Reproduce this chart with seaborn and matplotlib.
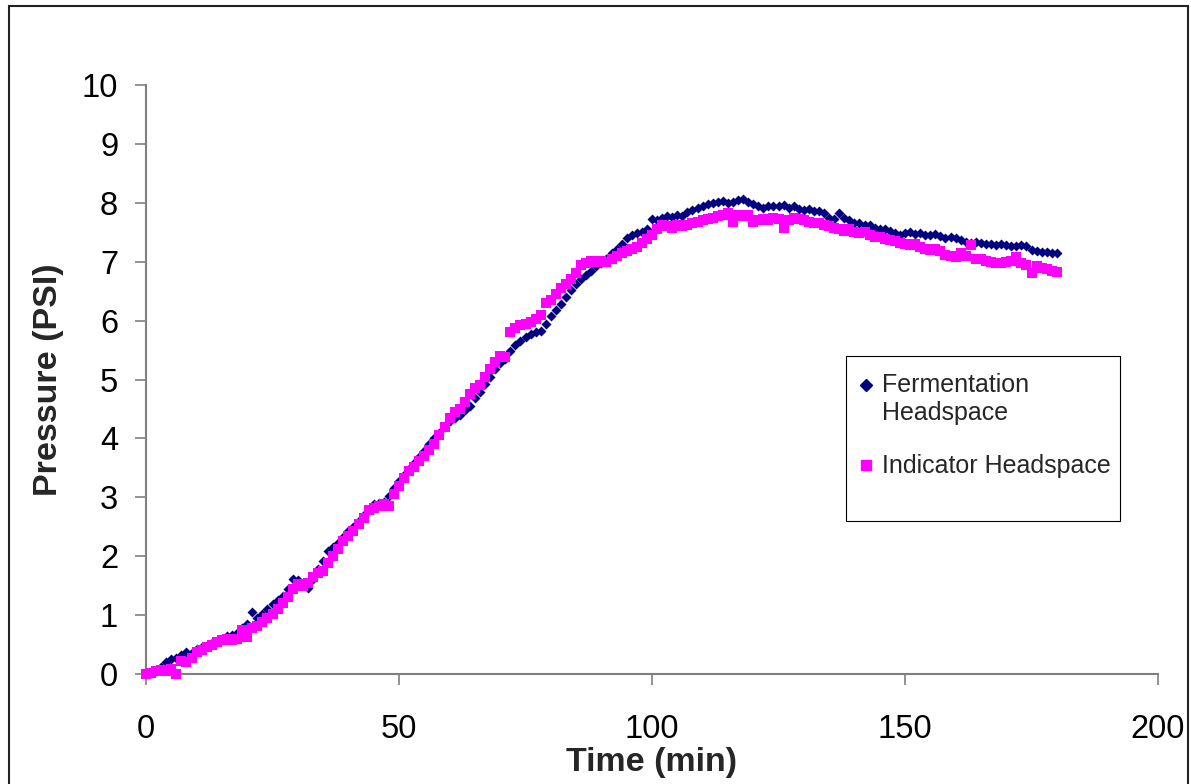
import numpy as np
import pandas as pd
import matplotlib
matplotlib.use("Agg")
import matplotlib.pyplot as plt
from matplotlib.patches import Rectangle
from matplotlib.lines import Line2D
import seaborn as sns

# ---------------- data ----------------
time_min = list(range(0, 181))

fermentation = [
    0.00, 0.02, 0.05, 0.12, 0.20, 0.25, 0.27, 0.33, 0.38, 0.35,
    0.42, 0.45, 0.48, 0.52, 0.55, 0.60, 0.65, 0.66, 0.70, 0.78,
    0.85, 1.06, 0.95, 1.02, 1.10, 1.18, 1.25, 1.32, 1.45, 1.62,
    1.60, 1.55, 1.46, 1.62, 1.78, 1.92, 2.08, 2.15, 2.22, 2.32,
    2.42, 2.50, 2.60, 2.70, 2.80, 2.88, 2.90, 2.92, 3.02, 3.15,
    3.28, 3.38, 3.48, 3.58, 3.68, 3.78, 3.90, 4.00, 4.10, 4.20,
    4.30, 4.35, 4.40, 4.48, 4.55, 4.68, 4.78, 4.92, 5.05, 5.18,
    5.28, 5.35, 5.48, 5.58, 5.65, 5.72, 5.78, 5.80, 5.82, 5.95,
    6.08, 6.18, 6.28, 6.40, 6.52, 6.62, 6.70, 6.78, 6.85, 6.92,
    6.98, 7.05, 7.15, 7.22, 7.30, 7.40, 7.45, 7.48, 7.50, 7.55,
    7.72, 7.70, 7.75, 7.78, 7.76, 7.80, 7.78, 7.85, 7.88, 7.92,
    7.95, 7.98, 8.00, 8.02, 8.03, 8.00, 8.02, 8.05, 8.06, 8.02,
    7.98, 7.95, 7.92, 7.95, 7.94, 7.95, 7.96, 7.92, 7.95, 7.90,
    7.88, 7.90, 7.86, 7.86, 7.82, 7.75, 7.72, 7.82, 7.75, 7.70,
    7.65, 7.66, 7.62, 7.63, 7.58, 7.56, 7.55, 7.52, 7.48, 7.46,
    7.48, 7.50, 7.47, 7.48, 7.46, 7.45, 7.47, 7.44, 7.40, 7.42,
    7.40, 7.36, 7.34, 7.32, 7.34, 7.32, 7.30, 7.30, 7.28, 7.30,
    7.28, 7.26, 7.27, 7.28, 7.26, 7.20, 7.18, 7.16, 7.17, 7.15,
    7.14,
]

indicator = [
    0.00, 0.02, 0.05, 0.07, 0.05, 0.08, 0.00, 0.22, 0.20, 0.28,
    0.38, 0.40, 0.45, 0.50, 0.55, 0.58, 0.60, 0.58, 0.60, 0.75,
    0.62, 0.78, 0.82, 0.88, 0.95, 1.02, 1.10, 1.20, 1.30, 1.45,
    1.52, 1.50, 1.55, 1.65, 1.72, 1.75, 1.88, 2.00, 2.12, 2.25,
    2.35, 2.42, 2.55, 2.65, 2.78, 2.82, 2.85, 2.88, 2.85, 3.05,
    3.20, 3.32, 3.45, 3.52, 3.62, 3.70, 3.80, 3.90, 4.05, 4.20,
    4.35, 4.45, 4.50, 4.62, 4.75, 4.85, 4.90, 5.05, 5.18, 5.30,
    5.40, 5.38, 5.80, 5.88, 5.92, 5.95, 5.98, 6.02, 6.10, 6.30,
    6.35, 6.45, 6.55, 6.62, 6.70, 6.80, 6.95, 6.98, 7.02, 7.00,
    7.02, 7.00, 7.05, 7.10, 7.15, 7.18, 7.22, 7.25, 7.32, 7.38,
    7.45, 7.55, 7.62, 7.60, 7.58, 7.62, 7.60, 7.62, 7.65, 7.68,
    7.70, 7.72, 7.75, 7.78, 7.80, 7.82, 7.68, 7.80, 7.78, 7.80,
    7.68, 7.70, 7.72, 7.70, 7.74, 7.72, 7.58, 7.70, 7.74, 7.72,
    7.70, 7.68, 7.66, 7.65, 7.62, 7.60, 7.58, 7.55, 7.52, 7.55,
    7.50, 7.48, 7.50, 7.45, 7.42, 7.42, 7.38, 7.36, 7.35, 7.32,
    7.30, 7.28, 7.30, 7.25, 7.22, 7.20, 7.22, 7.18, 7.12, 7.10,
    7.08, 7.15, 7.10, 7.28, 7.05, 7.05, 7.02, 7.00, 6.98, 6.98,
    7.00, 7.02, 7.08, 6.98, 6.95, 6.80, 6.92, 6.90, 6.88, 6.85,
    6.82,
]

series_names = ["Fermentation\nHeadspace", "Indicator Headspace"]
x_ticks = [0, 50, 100, 150, 200]
y_ticks = list(range(0, 11))

# ---------------- style ----------------
sns.set_style("white")
plt.rcParams["font.family"] = ["Liberation Sans", "DejaVu Sans"]

navy = "#000080"
magenta = "#FF00FF"
axis_grey = "#808080"

fig = plt.figure(figsize=(11.91, 7.84), dpi=100)
ax = fig.add_axes([146 / 1191, 1 - 674 / 784, (1158 - 146) / 1191, (674 - 85) / 784])

df_f = pd.DataFrame({"Time": time_min, "Pressure": fermentation})
df_i = pd.DataFrame({"Time": time_min, "Pressure": indicator})

sns.scatterplot(data=df_f, x="Time", y="Pressure", ax=ax, marker="D", s=26,
                color=navy, linewidth=0, zorder=3, clip_on=False)
sns.scatterplot(data=df_i, x="Time", y="Pressure", ax=ax, marker="s", s=50,
                color=magenta, linewidth=0, zorder=4, clip_on=False)

ax.set_xlim(0, 200)
ax.set_ylim(0, 10)
ax.set_xticks(x_ticks)
ax.set_yticks(y_ticks)
ax.set_xticklabels([str(v) for v in x_ticks])
ax.set_yticklabels([str(v) for v in y_ticks])

for side in ["top", "right"]:
    ax.spines[side].set_visible(False)
for side in ["left", "bottom"]:
    ax.spines[side].set_color(axis_grey)
    ax.spines[side].set_linewidth(1.5)

ax.tick_params(axis="y", left=True, direction="out", length=8, width=1.2,
               color=axis_grey, labelsize=23.5, pad=12, labelcolor="black")
ax.tick_params(axis="x", bottom=True, direction="out", length=8, width=1.2,
               color=axis_grey, labelsize=23.5, pad=21, labelcolor="black")

ax.set_xlabel("Time (min)", fontsize=24.5, fontweight="bold", labelpad=1)
ax.set_ylabel("Pressure (PSI)", fontsize=24.5, fontweight="bold", labelpad=13)

# legend
handles = [
    Line2D([], [], marker="D", linestyle="none", color=navy, markersize=6.5),
    Line2D([], [], marker="s", linestyle="none", color=magenta, markersize=7),
]
leg = ax.legend(handles, series_names, loc="upper left",
                bbox_to_anchor=(837 / 1191, 1 - 353 / 784),
                bbox_transform=fig.transFigure, frameon=False, fontsize=18,
                handlelength=0.7, handletextpad=0.3, labelspacing=1.18,
                borderpad=0.3)
# align the diamond with the first line of its two-line label
h0 = leg.legend_handles[0]
h0.set_ydata(np.asarray(h0.get_ydata(), dtype=float) + 10.8)

# legend box
fig.patches.append(Rectangle((846 / 1191, 1 - 521 / 784), (1120 - 846) / 1191,
                             (521 - 356) / 784, transform=fig.transFigure,
                             fill=False, edgecolor="black", linewidth=0.8,
                             zorder=5))
# outer chart border
fig.patches.append(Rectangle((9 / 1191, -0.05), (1188 - 9) / 1191, 1.05 - 6 / 784,
                             transform=fig.transFigure, fill=False,
                             edgecolor="#222222", linewidth=1.5))

fig.savefig("out.png", dpi=100)
